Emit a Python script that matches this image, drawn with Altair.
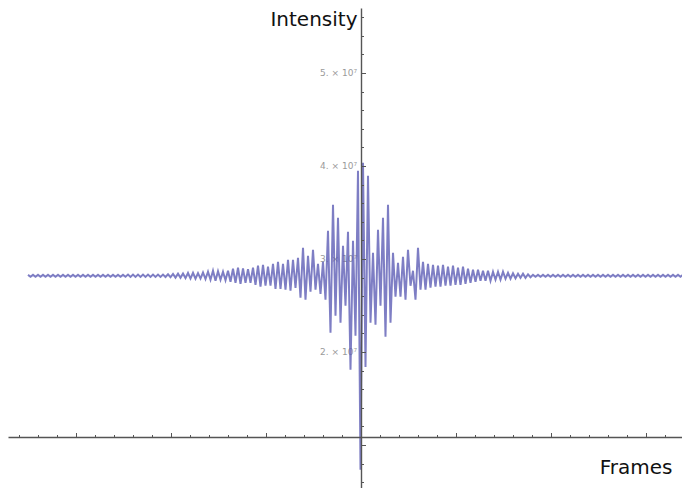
import altair as alt
import pandas as pd

# Interferogram intensity (units of 10^6 counts), one value per sampled frame
intensity = [
    28.3, 28.1, 28.3, 28.1, 28.3, 28.1, 28.3, 28.1, 28.3, 28.1,
    28.3, 28.1, 28.3, 28.1, 28.3, 28.1, 28.3, 28.1, 28.3, 28.1,
    28.3, 28.1, 28.3, 28.1, 28.3, 28.1, 28.3, 28.1, 28.3, 28.1,
    28.3, 28.1, 28.3, 28.1, 28.3, 28.1, 28.3, 28.1, 28.3, 28.1,
    28.33, 28.07, 28.33, 28.07, 28.33, 28.07, 28.33, 28.07,
    28.33, 28.07, 28.33, 28.07, 28.33, 28.07, 28.33, 28.07,
    28.36, 28.04, 28.4, 28.0, 28.42, 27.98, 28.45, 27.95, 28.5, 27.9,
    28.52, 27.88, 28.48, 27.9, 28.55,
    27.85, 28.63, 27.77, 28.74, 27.66, 28.68, 27.77, 28.63, 27.72, 28.74,
    27.56, 28.95, 27.45, 29.06, 27.34, 29.0, 27.45, 28.9, 27.45, 29.06,
    27.23, 29.28, 27.02, 29.38, 27.13, 29.17, 27.13, 29.49, 26.8, 29.7,
    26.8, 29.49, 26.7, 29.92, 26.59,
    29.92, 26.9, 30.14, 25.83, 31.2, 25.62, 30.35, 26.48, 31.0, 26.7,
    29.49, 26.26, 29.7, 25.62,
    33.04, 22.07, 35.83, 23.9, 34.44, 23.15, 31.43, 24.97, 32.93, 18.1,
    31.96, 21.75, 39.5, 7.35, 40.35, 18.4, 38.95,
    23.15, 30.67, 22.93, 33.15, 24.97, 34.44, 21.64, 35.83, 23.15, 30.67,
    25.94, 29.6, 25.94, 30.24, 25.62, 31.0, 27.13, 28.74, 25.62, 31.2,
    26.7, 29.7, 26.7,
    29.49, 26.91, 29.38, 27.02, 29.28, 27.02, 29.38, 27.13, 29.17, 27.13,
    29.28, 27.23, 29.06, 27.23, 29.17, 27.34, 28.95, 27.45, 28.85, 27.56,
    28.85, 27.66, 28.74, 27.66, 28.74, 27.66, 28.63, 27.77, 28.63, 27.77,
    28.63, 27.88, 28.52, 27.88, 28.47, 27.93, 28.42, 27.98, 28.42, 27.98,
    28.36, 28.04,
    28.3, 28.1, 28.3, 28.1, 28.3, 28.1, 28.3, 28.1, 28.3, 28.1,
    28.3, 28.1, 28.3, 28.1, 28.3, 28.1, 28.3, 28.1, 28.3, 28.1,
    28.3, 28.1, 28.3, 28.1, 28.3, 28.1, 28.3, 28.1, 28.3, 28.1,
    28.3, 28.1, 28.3, 28.1, 28.3, 28.1, 28.3, 28.1, 28.3, 28.1,
    28.3, 28.1, 28.3, 28.1, 28.3, 28.1, 28.3, 28.1, 28.3, 28.1,
    28.3, 28.1, 28.3, 28.1, 28.3, 28.1, 28.3, 28.1, 28.3, 28.1,
    28.3, 28.1, 28.3,
]
frames = list(range(len(intensity)))

center_frame = 133.2          # where the Intensity axis crosses
x_minor_step = 7.6
x_domain = [-8, 261.6]
y_domain = [5.38, 56.99]

y_label_values = [20, 30, 40, 50]
y_label_texts = ["2. × 10⁷", "3. × 10⁷", "4. × 10⁷", "5. × 10⁷"]
y_tick_values = list(range(6, 57, 2))

x_tick_values = [round(center_frame + k * x_minor_step, 3) for k in range(-20, 18)]
x_tick_values = [v for v in x_tick_values if x_domain[0] <= v <= x_domain[1]]

df = pd.DataFrame({"frame": frames, "intensity": intensity})
labels_df = pd.DataFrame({
    "frame": [center_frame] * len(y_label_values),
    "intensity": y_label_values,
    "label": y_label_texts,
})

xscale = alt.Scale(domain=x_domain, nice=False, zero=False)
yscale = alt.Scale(domain=y_domain, nice=False, zero=False)

x_tick_size = {
    "condition": {
        "test": f"abs(round((datum.value - {center_frame}) / {x_minor_step})) % 5 == 0",
        "value": 4.5,
    },
    "value": 2.5,
}
y_tick_size = {
    "condition": {"test": "datum.value % 10 == 0", "value": 4.5},
    "value": 2.5,
}

x_axis = alt.Axis(
    orient="top", offset=-429, values=x_tick_values, labels=False,
    grid=False, tickSize=x_tick_size, tickColor="#555",
    domainColor="#555", domainWidth=1.4, zindex=1,
    title="Frames", titleX=664, titleY=36, titleAlign="right",
    titleBaseline="alphabetic", titleAngle=0, titleFont="DejaVu Sans",
    titleFontSize=20, titleFontWeight="normal", titleColor="#111",
)
y_axis = alt.Axis(
    orient="right", offset=-321, values=y_tick_values, labels=False,
    grid=False, tickSize=y_tick_size, tickColor="#555",
    domainColor="#555", domainWidth=1.4, zindex=1,
    title="Intensity", titleX=-4, titleY=17, titleAlign="right",
    titleBaseline="alphabetic", titleAngle=0, titleFont="DejaVu Sans",
    titleFontSize=20, titleFontWeight="normal", titleColor="#111",
)

labels = alt.Chart(labels_df).mark_text(
    align="right", baseline="middle", dx=-4, fontSize=9,
    font="DejaVu Sans", color="#9a9a9a"
).encode(
    x=alt.X("frame:Q", scale=xscale, axis=x_axis),
    y=alt.Y("intensity:Q", scale=yscale, axis=y_axis),
    text="label:N",
)

line = alt.Chart(df).mark_line(
    color="#5a5ab4", strokeWidth=2.0, opacity=0.78, clip=True
).encode(
    x=alt.X("frame:Q", scale=xscale, axis=x_axis),
    y=alt.Y("intensity:Q", scale=yscale, axis=y_axis),
)

chart = alt.layer(labels, line).properties(
    width=674, height=480,
    autosize=alt.AutoSizeParams(type="none"),
    padding=0,
    background="white",
).configure_view(stroke=None)

chart.save("out.html", embed_options={"renderer": "svg", "actions": False})
